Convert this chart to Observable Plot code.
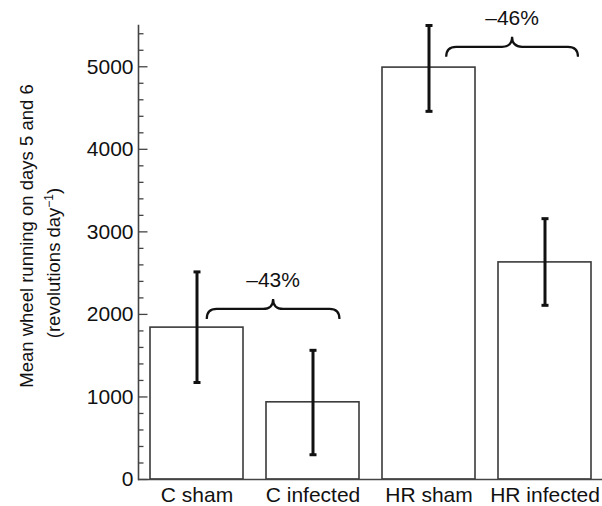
<!DOCTYPE html>
<html>
<head>
<meta charset="utf-8">
<script src="https://cdn.jsdelivr.net/npm/d3@7"></script>
<script src="https://cdn.jsdelivr.net/npm/@observablehq/plot@0.6"></script>
<style>
  html, body { margin: 0; padding: 0; background: #fff; }
  #chart { width: 602px; height: 506px; }
  svg { font-family: "Liberation Sans", Arial, Helvetica, sans-serif; }
</style>
</head>
<body>
<div id="chart"></div>
<script>
// ---- data ----
const groups = ["C sham", "C infected", "HR sham", "HR infected"];
const means  = [1840, 935, 4990, 2630];
const errLow = [1175, 300, 4460, 2110];
const errHigh = [2515, 1565, 5500, 3160];
const majorTicks = [0, 1000, 2000, 3000, 4000, 5000];
const minorTicks = d3.range(200, 5500, 200).filter(v => v % 1000 !== 0);
const yTitle = "Mean wheel running on days 5 and 6";
const yUnit = "(revolutions day";
const yUnitSup = "\u22121";
// brace annotations: span between two bars, drawn at a data level
const braceFrom = ["C sham", "HR sham"];
const braceFromAt = [0.61, 0.69];
const braceTo = ["C infected", "HR infected"];
const braceToAt = [0.79, 0.86];
const braceLevel = [2060, 5235];
const braceLabel = ["\u201343%", "\u201346%"];

const rows = groups.map((g, i) => ({group: g, mean: means[i], lo: errLow[i], hi: errHigh[i]}));

const tickSym = len => ({draw(ctx) { ctx.moveTo(0, 0); ctx.lineTo(len, 0); }});
const capSym = {draw(ctx) { ctx.moveTo(-3.5, 0); ctx.lineTo(3.5, 0); }};

const plot = Plot.plot({
  width: 602,
  height: 506,
  marginLeft: 138,
  marginRight: 0,
  marginTop: 25,
  marginBottom: 27,
  style: {fontFamily: "Liberation Sans, Arial, Helvetica, sans-serif", fontSize: "21px", background: "#fff"},
  x: {domain: groups, paddingInner: 0.2, paddingOuter: 0.1, label: null},
  y: {domain: [0, 5500], label: null},
  marks: [
    Plot.barY(rows, {x: "group", y: "mean", fill: "white", stroke: "#3a3a3a", strokeWidth: 1.6}),
    Plot.ruleX(rows, {x: "group", y1: "lo", y2: "hi", stroke: "#111", strokeWidth: 3}),
    Plot.dot(rows, {x: "group", y: "lo", symbol: capSym, stroke: "#111", strokeWidth: 3, fill: "none"}),
    Plot.dot(rows, {x: "group", y: "hi", symbol: capSym, stroke: "#111", strokeWidth: 3, fill: "none"}),
    Plot.dot(majorTicks, {y: d => d, frameAnchor: "left", symbol: tickSym(9), stroke: "#444", strokeWidth: 1.3, fill: "none"}),
    Plot.dot(minorTicks, {y: d => d, frameAnchor: "left", symbol: tickSym(5), stroke: "#444", strokeWidth: 1.3, fill: "none"}),
    Plot.frame({anchor: "left", stroke: "#444", strokeWidth: 1.6}),
    Plot.ruleY([0], {stroke: "#444", strokeWidth: 1.6}),
    Plot.axisY({ticks: majorTicks, tickSize: 0, tickPadding: 5, tickFormat: d => String(d), fontSize: 21, fill: "#111"}),
    Plot.axisX({tickSize: 0, tickPadding: 8, fontSize: 21, fill: "#111"})
  ]
});
document.getElementById("chart").appendChild(plot);

// ---- annotations drawn with the plot's own scales ----
const svg = d3.select(plot);
const xs = plot.scale("x"), ys = plot.scale("y");
const bw = xs.bandwidth;
const r = 10;
braceFrom.forEach((f, i) => {
  const x0 = xs.apply(f) + braceFromAt[i] * bw;
  const x1 = xs.apply(braceTo[i]) + braceToAt[i] * bw;
  const xm = (x0 + x1) / 2;
  const yf = ys.apply(braceLevel[i]);
  const path = `M${x0},${yf + r} Q${x0},${yf} ${x0 + r},${yf} L${xm - r},${yf} Q${xm},${yf} ${xm},${yf - r} Q${xm},${yf} ${xm + r},${yf} L${x1 - r},${yf} Q${x1},${yf} ${x1},${yf + r}`;
  svg.append("path").attr("d", path).attr("fill", "none").attr("stroke", "#111").attr("stroke-width", 2.2);
  svg.append("text").attr("x", xm).attr("y", yf - r - 12).attr("text-anchor", "middle")
    .attr("font-size", 21).attr("fill", "#111").text(braceLabel[i]);
});

// y-axis title (two lines, rotated)
const t1 = svg.append("text").attr("transform", "translate(33,236) rotate(-90)")
  .attr("text-anchor", "middle").attr("font-size", 18.5).attr("fill", "#111").text(yTitle);
const t2 = svg.append("text").attr("transform", "translate(60,263) rotate(-90)")
  .attr("text-anchor", "middle").attr("font-size", 18.5).attr("fill", "#111");
t2.append("tspan").text(yUnit);
t2.append("tspan").attr("dy", -7).attr("font-size", 12).text(yUnitSup);
t2.append("tspan").attr("dy", 7).text(")");
</script>
</body>
</html>
